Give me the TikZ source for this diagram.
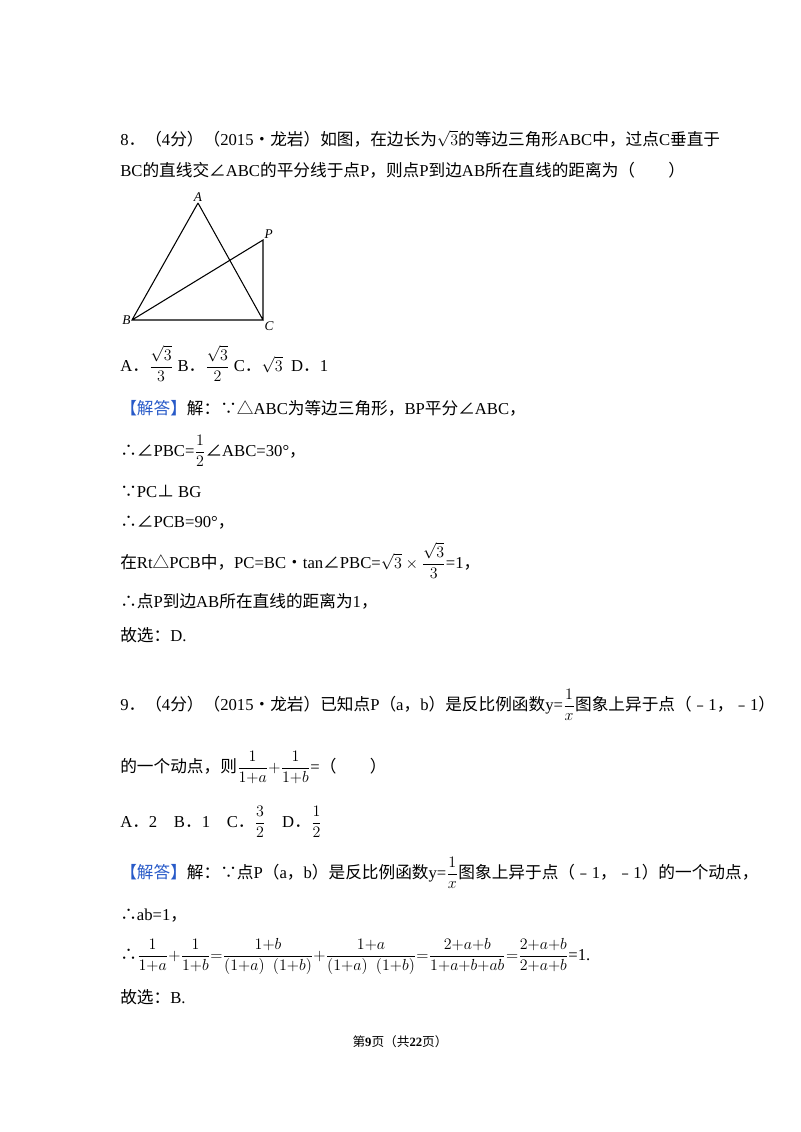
\documentclass[tikz,border=0pt]{standalone}
\usepackage{amsmath,amssymb}
\usepackage{fontspec}
\setmainfont{Liberation Serif}
\newfontfamily\cjk{Noto Sans CJK SC}
\newcommand{\zh}[1]{{\cjk #1}}
\definecolor{jd}{RGB}{40,90,200}
\begin{document}
\begin{tikzpicture}[x=0.75pt,y=-0.75pt,
  t/.style={anchor=base west,inner sep=0pt,font=\fontsize{12.5}{15}\selectfont},
  lbl/.style={font=\fontsize{10}{12}\selectfont\itshape,inner sep=1pt},
  seg/.style={line width=0.8pt}]
\useasboundingbox (0,0) rectangle (800,1132);
\node[t] (l1) at (120,145) {8\zh{．（}4\zh{分）（}2015\zh{•龙岩）如图，在边长为}$\sqrt{3}$\zh{的等边三角形}ABC\zh{中，过点}C\zh{垂直于}};
\node[t] (l2) at (120,176) {BC\zh{的直线交∠}ABC\zh{的平分线于点}P\zh{，则点}P\zh{到边}AB\zh{所在直线的距离为（　　）}};
\coordinate (A) at (198,203);
\coordinate (B) at (132,320);
\coordinate (C) at (263,320);
\coordinate (P) at (263,240);
\draw[seg] (A)--(B)--(C)--(A) (B)--(P)--(C);
\node[lbl,above] (la) at (A) {A};
\node[lbl,anchor=east] (lb) at (B) {B};
\node[lbl,anchor=north west] (lc) at (C) {C};
\node[lbl,anchor=south west] (lp) at (P) {P};
\node[t] (opt8) at (120,371) {A\zh{．}$\dfrac{\sqrt{3}}{3}$ B\zh{．}$\dfrac{\sqrt{3}}{2}$ C\zh{．}$\sqrt{3}$\ \ D\zh{．}1};
\node[t] (s1) at (120,414) {\textcolor{jd}{\zh{【解答】}}\zh{解：∵△}ABC\zh{为等边三角形，}BP\zh{平分∠}ABC\zh{，}};
\node[t] (s2) at (120,456) {\zh{∴∠}PBC=$\dfrac{1}{2}$\zh{∠}ABC=30°\zh{，}};
\node[t] (s3) at (120,497) {\zh{∵}PC\zh{⊥} BG};
\node[t] (s4) at (120,527) {\zh{∴∠}PCB=90°\zh{，}};
\node[t] (s5) at (120,568) {\zh{在}Rt\zh{△}PCB\zh{中，}PC=BC\zh{•}tan\zh{∠}PBC=$\sqrt{3}\times\dfrac{\sqrt{3}}{3}$=1\zh{，}};
\node[t] (s6) at (120,607) {\zh{∴点}P\zh{到边}AB\zh{所在直线的距离为}1\zh{，}};
\node[t] (s7) at (120,641) {\zh{故选：}D.};
\node[t] (q9) at (120,710) {9\zh{．（}4\zh{分）（}2015\zh{•龙岩）已知点}P\zh{（}a\zh{，}b\zh{）是反比例函数}y=$\dfrac{1}{x}$\zh{图象上异于点（﹣}1\zh{，﹣}1\zh{）}};
\node[t] (q9b) at (120,772) {\zh{的一个动点，则}$\dfrac{1}{1{+}a}{+}\dfrac{1}{1{+}b}$=\zh{（　　）}};
\node[t] (opt9) at (120,827) {A\zh{．}2\quad B\zh{．}1\quad C\zh{．}$\dfrac{3}{2}$\quad D\zh{．}$\dfrac{1}{2}$};
\node[t] (r1) at (120,878) {\textcolor{jd}{\zh{【解答】}}\zh{解：∵点}P\zh{（}a\zh{，}b\zh{）是反比例函数}y=$\dfrac{1}{x}$\zh{图象上异于点（﹣}1\zh{，﹣}1\zh{）的一个动点，}};
\node[t] (r2) at (120,920) {\zh{∴}ab=1\zh{，}};
\node[t] (r3) at (120,960) {\zh{∴}$\dfrac{1}{1{+}a}{+}\dfrac{1}{1{+}b}{=}\dfrac{1{+}b}{(1{+}a)\ \ (1{+}b)}{+}\dfrac{1{+}a}{(1{+}a)\ \ (1{+}b)}{=}\dfrac{2{+}a{+}b}{1{+}a{+}b{+}ab}{=}\dfrac{2{+}a{+}b}{2{+}a{+}b}$=1.};
\node[t] (r4) at (120,1003) {\zh{故选：}B.};
\node[anchor=base,inner sep=0pt,font=\fontsize{9.5}{11}\selectfont] (ft) at (400,1046) {\zh{第}\textbf{9}\zh{页（共}\textbf{22}\zh{页）}};
\end{tikzpicture}
\end{document}
